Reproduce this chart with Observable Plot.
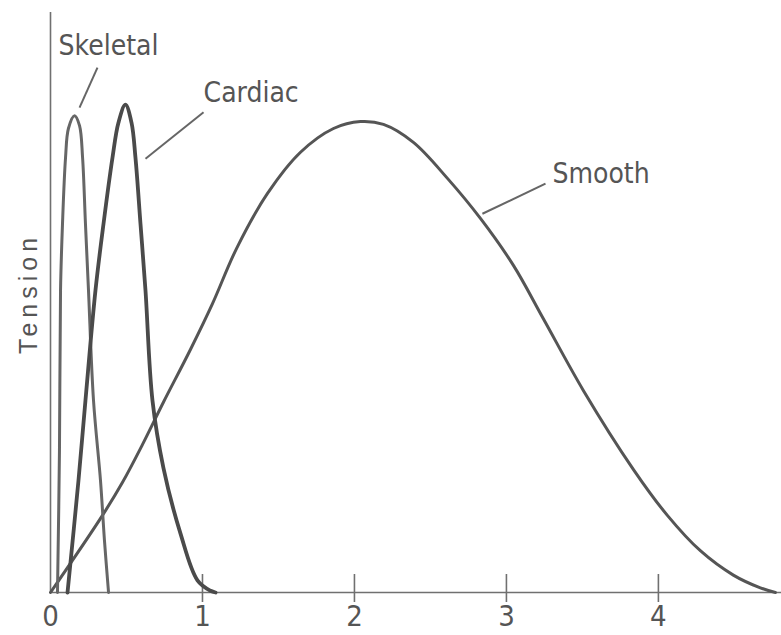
<!DOCTYPE html>
<html>
<head>
<meta charset="utf-8">
<script src="https://cdn.jsdelivr.net/npm/d3@7"></script>
<script src="https://cdn.jsdelivr.net/npm/@observablehq/plot@0.6"></script>
<style>
  html, body { margin: 0; padding: 0; background: #fff; }
  #chart svg { display: block; }
</style>
</head>
<body>
<div id="chart"></div>
<script>
// ---- data (time in s, tension in relative units) ----
const skeletalX = [0.046, 0.059, 0.066, 0.079, 0.099, 0.118, 0.158, 0.191, 0.211, 0.230, 0.250, 0.283, 0.329, 0.355, 0.382];
const skeletalY = [0, 0.245, 0.521, 0.636, 0.750, 0.800, 0.822, 0.805, 0.750, 0.636, 0.521, 0.331, 0.193, 0.090, 0];

const cardiacX = [0.112, 0.184, 0.230, 0.296, 0.349, 0.408, 0.447, 0.493, 0.533, 0.559, 0.592, 0.625, 0.671, 0.743, 0.855, 0.967, 1.053, 1.086];
const cardiacY = [0, 0.193, 0.331, 0.521, 0.636, 0.750, 0.810, 0.841, 0.810, 0.750, 0.636, 0.521, 0.331, 0.215, 0.102, 0.021, 0.003, 0];

const smoothX = [0, 0.342, 0.474, 0.605, 0.743, 0.921, 1.066, 1.224, 1.428, 1.645, 1.862, 2.039, 2.191, 2.388, 2.612, 2.829, 3.046, 3.243, 3.507, 3.836, 4.059, 4.276, 4.493, 4.671, 4.770];
const smoothY = [0, 0.133, 0.190, 0.255, 0.328, 0.419, 0.498, 0.593, 0.688, 0.759, 0.800, 0.812, 0.807, 0.776, 0.714, 0.645, 0.564, 0.472, 0.348, 0.212, 0.133, 0.072, 0.030, 0.008, 0];

const xTickLabels = [0, 1, 2, 3, 4];
const xTickMarks = [1, 2, 3, 4];

const labelNames = ["Skeletal", "Cardiac", "Smooth"];
const labelX = [0.053, 1.007, 3.303];
const labelY = [0.942, 0.861, 0.722];
const leaderX1 = [0.309, 1.007, 3.257];
const leaderY1 = [0.905, 0.828, 0.705];
const leaderX2 = [0.191, 0.625, 2.842];
const leaderY2 = [0.836, 0.748, 0.653];

const yTitle = "Tension";

// ---- build tables ----
const toPts = (xs, ys) => xs.map((x, i) => ({x, y: ys[i]}));
const skeletal = toPts(skeletalX, skeletalY);
const cardiac = toPts(cardiacX, cardiacY);
const smooth = toPts(smoothX, smoothY);
const labels = labelNames.map((name, i) => ({name, x: labelX[i], y: labelY[i]}));
const leaders = leaderX1.map((x1, i) => ({x1, y1: leaderY1[i], x2: leaderX2[i], y2: leaderY2[i]}));

const FONT = '"Liberation Sans Narrow", "DejaVu Sans Condensed", "Liberation Sans", sans-serif';
const AXIS = "#707070";

const chart = Plot.plot({
  width: 781,
  height: 635,
  marginLeft: 50,
  marginRight: 0,
  marginTop: 12,
  marginBottom: 43,
  style: {fontFamily: FONT, background: "#fff", color: "#555"},
  x: {domain: [0, 4.81], axis: null},
  y: {domain: [0, 1], axis: null},
  marks: [
    Plot.ruleY([0], {stroke: AXIS, strokeWidth: 1.6}),
    Plot.ruleX([0], {stroke: AXIS, strokeWidth: 1.6}),
    Plot.tickX(xTickMarks, {x: d => d, stroke: AXIS, strokeWidth: 1.6, insetTop: 562, insetBottom: -10}),
    Plot.axisX(xTickLabels, {tickSize: 0, tickPadding: 13, fontSize: 29, tickFormat: "d", color: "#555", label: null, fontFamily: FONT}),
    Plot.line(smooth, {x: "x", y: "y", curve: "catmull-rom", stroke: "#555", strokeWidth: 3}),
    Plot.line(skeletal, {x: "x", y: "y", curve: "catmull-rom", stroke: "#666", strokeWidth: 3}),
    Plot.line(cardiac, {x: "x", y: "y", curve: "catmull-rom", stroke: "#4a4a4a", strokeWidth: 3.8}),
    Plot.link(leaders, {x1: "x1", y1: "y1", x2: "x2", y2: "y2", stroke: "#666", strokeWidth: 2}),
    Plot.text(labels, {x: "x", y: "y", text: "name", textAnchor: "start", fontSize: 28, fill: "#555", fontFamily: FONT}),
    Plot.text([yTitle], {frameAnchor: "left", textAnchor: "middle", rotate: -90, dx: -22, dy: -9, fontSize: 25, fill: "#555",
      fontFamily: '"Liberation Sans", Arial, sans-serif'})
  ]
});

document.getElementById("chart").appendChild(chart);
// letter spacing for the rotated axis title
d3.select(chart).selectAll("text").filter(function() { return this.textContent === yTitle; })
  .style("letter-spacing", "5px");
</script>
</body>
</html>
